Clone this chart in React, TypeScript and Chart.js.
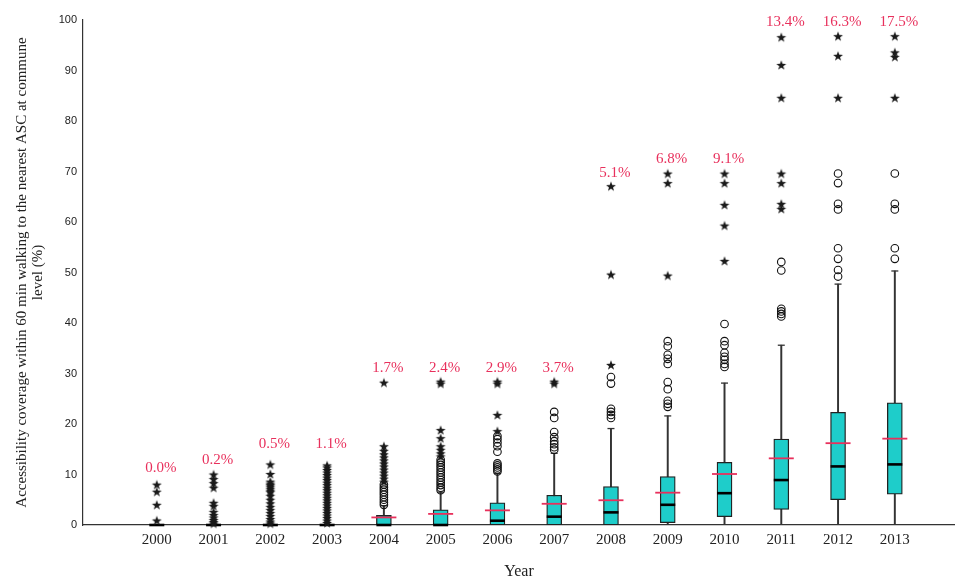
import React, { useEffect, useRef } from 'react';
import { Chart, registerables } from 'chart.js';

Chart.register(...registerables);

// ---------------- data ----------------
const years = [2000, 2001, 2002, 2003, 2004, 2005, 2006, 2007, 2008, 2009, 2010, 2011, 2012, 2013];

const q1 = [0, 0, 0, 0, 0, 0, 0, 0, 0, 0.45, 1.65, 3.1, 5.0, 6.1];
const q3 = [0, 0, 0, 0, 1.9, 3.0, 4.4, 5.9, 7.6, 9.6, 12.4, 17.0, 22.3, 24.2];
const medians = [0, 0, 0, 0, 0, 0, 0.85, 1.65, 2.5, 4.0, 6.3, 8.9, 11.6, 12.0];
const meanLine = [null, null, null, null, 1.5, 2.2, 2.9, 4.2, 4.9, 6.4, 10.1, 13.2, 16.2, 17.1];
const whiskerLow = [0, 0, 0, 0, 0, 0, 0, 0, 0, 0, 0, 0, 0, 0];
const whiskerHigh = [0, 0, 0, 0, 3.8, 6.5, 10.2, 14.2, 19.1, 21.6, 28.1, 35.6, 47.7, 50.3];

// mean coverage (%) printed above each year, and the height (axis units) it is printed at
const meanPct = [0.0, 0.2, 0.5, 1.1, 1.7, 2.4, 2.9, 3.7, 5.1, 6.8, 9.1, 13.4, 16.3, 17.5];
const labelY = [11.3, 12.9, 16.0, 16.0, 31.0, 31.0, 31.0, 31.0, 69.7, 72.5, 72.5, 99.6, 99.6, 99.6];

// mild outliers (open circles)
const circleOutliers: number[][] = [
  [],
  [],
  [],
  [],
  [4.0, 4.5, 5.0, 5.5, 6.0, 6.5, 7.0, 7.5, 8.0],
  [6.9, 7.4, 7.9, 8.4, 8.9, 9.4, 9.9, 10.4, 10.9, 11.4, 11.9, 12.4, 12.9],
  [10.6, 11.0, 11.4, 11.8, 12.2, 14.5, 15.6, 16.3, 17.0, 17.6],
  [14.9, 15.4, 16.0, 16.6, 17.4, 18.4, 21.2, 22.4],
  [21.2, 21.8, 22.4, 23.0, 28.0, 29.3],
  [23.4, 24.0, 24.6, 26.9, 28.3, 31.9, 32.9, 33.7, 35.4, 36.4],
  [31.3, 31.9, 32.7, 33.3, 34.1, 35.6, 36.4, 39.8],
  [41.3, 41.8, 42.3, 42.8, 50.4, 52.1],
  [49.2, 50.5, 52.7, 54.8, 62.5, 63.6, 67.7, 69.6],
  [52.7, 54.8, 62.5, 63.6, 69.6],
];

// extreme outliers (stars)
const starOutliers: number[][] = [
  [0.9, 4.0, 6.6, 8.0],
  [0.3, 0.6, 1.0, 1.5, 2.0, 2.6, 3.8, 4.4, 7.4, 8.3, 9.1, 10.0],
  [0.3, 0.7, 1.2, 1.8, 2.4, 3.0, 3.6, 4.3, 5.0, 5.8, 6.5, 6.8, 7.2, 7.6, 7.9, 8.2, 8.6, 10.1, 12.0],
  [0.4, 0.9, 1.4, 1.9, 2.4, 2.9, 3.4, 3.9, 4.4, 4.9, 5.4, 5.9, 6.4, 6.9, 7.4, 7.9, 8.4, 8.9, 9.4, 9.9, 10.4, 10.9, 11.4, 11.8],
  [8.6, 9.2, 9.8, 10.4, 11.0, 11.6, 12.2, 12.8, 13.4, 14.0, 14.7, 15.6, 28.2],
  [13.6, 14.2, 14.9, 15.6, 17.2, 18.8, 28.0, 28.4],
  [18.6, 21.8, 28.0, 28.4],
  [28.0, 28.4],
  [31.7, 49.6, 67.1],
  [49.4, 67.7, 69.6],
  [52.3, 59.3, 63.4, 67.7, 69.6],
  [62.6, 63.6, 67.7, 69.6, 84.6, 91.1, 96.6],
  [84.6, 92.9, 96.8],
  [84.6, 92.7, 93.6, 96.8],
];

const yTicks = [0, 10, 20, 30, 40, 50, 60, 70, 80, 90, 100];

// ---------------- styles ----------------
const W = 955;
const H = 579;
const BOX_FILL = '#1ecdca';
const RED = '#e8305c';
const INK = '#1a1a1a';
const SERIF = '"Liberation Serif", "Times New Roman", serif';
const SANS = '"Liberation Sans", Arial, sans-serif';

function makeStar(): HTMLCanvasElement {
  const s = 12;
  const c = document.createElement('canvas');
  c.width = s;
  c.height = s;
  const g = c.getContext('2d')!;
  g.fillStyle = INK;
  g.beginPath();
  for (let i = 0; i < 10; i++) {
    const r = i % 2 === 0 ? 5.2 : 2.1;
    const a = -Math.PI / 2 + (i * Math.PI) / 5;
    const px = s / 2 + r * Math.cos(a);
    const py = s / 2 + 0.5 + r * Math.sin(a);
    if (i === 0) g.moveTo(px, py);
    else g.lineTo(px, py);
  }
  g.closePath();
  g.fill();
  return c;
}

const labelPlugin = {
  id: 'meanLabels',
  afterDatasetsDraw(chart: any) {
    const { ctx, scales } = chart;
    const x = scales.x;
    const y = scales.y;
    ctx.save();
    ctx.font = `15px ${SERIF}`;
    ctx.fillStyle = RED;
    ctx.textAlign = 'center';
    ctx.textBaseline = 'middle';
    years.forEach((yr, i) => {
      ctx.fillText(meanPct[i].toFixed(1) + '%', x.getPixelForValue(yr) + 4, y.getPixelForValue(labelY[i]));
    });
    ctx.restore();
  },
};

export default function App() {
  const ref = useRef<HTMLCanvasElement | null>(null);

  useEffect(() => {
    if (!ref.current) return;
    const star = makeStar();

    const boxData = years
      .map((yr, i) => (q3[i] > q1[i] ? { x: yr, y: [q1[i], q3[i]] } : null))
      .filter(Boolean);
    const whiskerData = years
      .map((yr, i) => (whiskerHigh[i] > 0 ? { x: yr, y: [whiskerLow[i], whiskerHigh[i]] } : null))
      .filter(Boolean);
    const capData = years
      .map((yr, i) => (whiskerHigh[i] > 0 ? { x: yr, y: whiskerHigh[i] } : null))
      .filter(Boolean);
    const medianData = years.map((yr, i) => ({ x: yr, y: medians[i] }));
    const meanData = years
      .map((yr, i) => (meanLine[i] !== null ? { x: yr, y: meanLine[i] } : null))
      .filter(Boolean);
    const circleData = years.flatMap((yr, i) => circleOutliers[i].map((v) => ({ x: yr, y: v })));
    const starData = years.flatMap((yr, i) => starOutliers[i].map((v) => ({ x: yr, y: v })));

    const pointSet = (extra: any) => ({
      type: 'line',
      showLine: false,
      clip: false,
      ...extra,
    });

    const chart = new Chart(ref.current, {
      type: 'bar',
      data: {
        datasets: [
          {
            type: 'bar',
            data: whiskerData as any,
            backgroundColor: '#333',
            borderWidth: 0,
            barThickness: 1.3,
            grouped: false,
            order: 9,
          } as any,
          {
            type: 'bar',
            data: boxData as any,
            backgroundColor: BOX_FILL,
            borderColor: '#222',
            borderWidth: 1.3,
            borderSkipped: false,
            barThickness: 15,
            grouped: false,
            order: 8,
          } as any,
          pointSet({
            data: capData,
            pointStyle: 'line',
            pointRadius: 3.5,
            borderColor: '#333',
            pointBorderWidth: 1.3,
            order: 7,
          }),
          pointSet({
            data: medianData,
            pointStyle: 'line',
            pointRadius: 7.5,
            borderColor: '#000',
            pointBorderWidth: 2.6,
            order: 6,
          }),
          pointSet({
            data: meanData,
            pointStyle: 'line',
            pointRadius: 12.5,
            borderColor: RED,
            pointBorderWidth: 1.8,
            order: 5,
          }),
          pointSet({
            data: circleData,
            pointStyle: 'circle',
            pointRadius: 3.8,
            borderColor: '#111',
            backgroundColor: 'rgba(0,0,0,0)',
            pointBorderWidth: 1.1,
            order: 4,
          }),
          pointSet({
            data: starData,
            pointStyle: star,
            pointRadius: 5,
            order: 3,
          }),
        ] as any,
      },
      options: {
        animation: false,
        responsive: false,
        events: [],
        layout: { autoPadding: false, padding: { top: 20, right: 0, bottom: 0, left: 0 } },
        plugins: {
          legend: { display: false },
          tooltip: { enabled: false },
        },
        scales: {
          x: {
            type: 'linear',
            min: 1998.7,
            max: 2014.06,
            offset: false,
            grid: { display: false, drawTicks: false },
            border: { display: true, color: '#333', width: 1.2 },
            afterBuildTicks: (s: any) => {
              s.ticks = years.map((v) => ({ value: v }));
            },
            afterFit: (s: any) => {
              s.height = 54;
            },
            ticks: {
              autoSkip: false,
              maxRotation: 0,
              padding: 6,
              color: '#222',
              font: { family: SERIF, size: 15 },
              callback: (v: any) => String(v),
            },
            title: {
              display: true,
              text: 'Year',
              color: '#222',
              font: { family: SERIF, size: 16, lineHeight: 1 },
              padding: { top: 0, bottom: -1 },
            },
          },
          y: {
            type: 'linear',
            min: 0,
            max: 100,
            grid: { display: false, drawTicks: false },
            border: { display: true, color: '#333', width: 1.2 },
            afterBuildTicks: (s: any) => {
              s.ticks = yTicks.map((v) => ({ value: v }));
            },
            afterFit: (s: any) => {
              s.width = 83;
            },
            ticks: {
              padding: 6,
              color: '#222',
              font: { family: SANS, size: 11 },
            },
            title: {
              display: true,
              text: [
                'Accessibility coverage within 60 min walking to the nearest ASC at commune',
                'level (%)',
              ],
              color: '#222',
              font: { family: SERIF, size: 15, lineHeight: 1.1 },
              padding: { top: 13.5, bottom: 0 },
            },
          },
        },
      } as any,
      plugins: [labelPlugin],
    });

    return () => chart.destroy();
  }, []);

  return (
    <div style={{ position: 'absolute', left: 0, top: 0, width: W, height: H, background: '#fff' }}>
      <canvas ref={ref} width={W} height={H} style={{ width: W, height: H, display: 'block' }} />
    </div>
  );
}
